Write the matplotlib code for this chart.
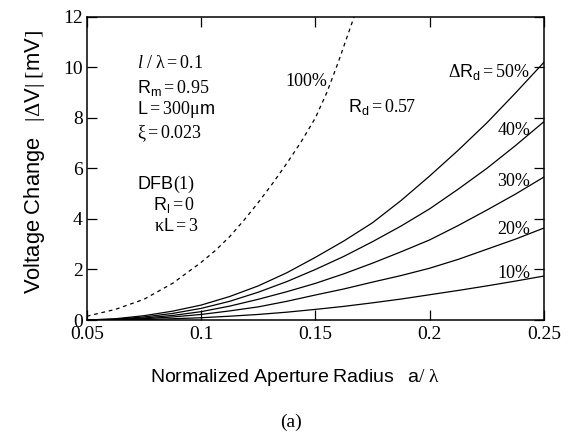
import numpy as np
import matplotlib
matplotlib.use("Agg")
import matplotlib.pyplot as plt

plt.rcParams['mathtext.fontset'] = 'custom'
plt.rcParams['mathtext.rm'] = 'Liberation Serif'
plt.rcParams['mathtext.it'] = 'Liberation Serif:italic'
plt.rcParams['mathtext.sf'] = 'Liberation Sans'
plt.rcParams['font.family'] = 'Liberation Serif'

### data
a_lam = [0.05, 0.0625, 0.075, 0.0875, 0.1, 0.1125, 0.125, 0.1375, 0.15,
         0.1625, 0.175, 0.1875, 0.2, 0.2125, 0.225, 0.2375, 0.25]
dv_50 = [0.0, 0.05, 0.17, 0.35, 0.59, 0.93, 1.35, 1.87, 2.48,
         3.13, 3.85, 4.73, 5.7, 6.72, 7.8, 8.98, 10.2]
dv_40 = [0.0, 0.03, 0.12, 0.26, 0.46, 0.74, 1.10, 1.52, 2.0,
         2.52, 3.1, 3.72, 4.4, 5.18, 6.0, 6.9, 7.85]
dv_30 = [0.0, 0.02, 0.08, 0.18, 0.33, 0.55, 0.82, 1.12, 1.45,
         1.83, 2.25, 2.7, 3.17, 3.74, 4.35, 4.98, 5.66]
dv_20 = [0.0, 0.01, 0.05, 0.12, 0.22, 0.36, 0.52, 0.74, 0.99,
         1.23, 1.5, 1.76, 2.05, 2.4, 2.8, 3.2, 3.64]
dv_10 = [0.0, 0.005, 0.02, 0.05, 0.09, 0.15, 0.22, 0.31, 0.42,
         0.54, 0.68, 0.83, 1.0, 1.17, 1.35, 1.54, 1.74]

a_lam_100 = [0.05, 0.0625, 0.075, 0.0875, 0.1, 0.10625, 0.1125, 0.11875, 0.125,
             0.13125, 0.1375, 0.14375, 0.15, 0.155, 0.16, 0.165, 0.1685]
dv_100 = [0.15, 0.42, 0.82, 1.45, 2.28, 2.75, 3.3, 3.95, 4.65,
          5.4, 6.2, 7.05, 8.0, 9.0, 10.2, 11.5, 12.4]

xticks = [0.05, 0.1, 0.15, 0.2, 0.25]
xticklabels = ['0.05', '0.1', '0.15', '0.2', '0.25']
yticks = [0, 2, 4, 6, 8, 10, 12]

fig = plt.figure(figsize=(5.75, 4.42), dpi=100)
ax = fig.add_axes([0.151, 0.276, 0.795, 0.686])

for dv in [dv_50, dv_40, dv_30, dv_20, dv_10]:
    ax.plot(a_lam, dv, color='black', lw=0.9)
ax.plot(a_lam_100, dv_100, color='black', lw=0.9, ls=(0, (3, 3)))

ax.set_xlim(0.05, 0.25)
ax.set_ylim(0, 12)
ax.set_xticks(xticks)
ax.set_xticklabels(xticklabels)
ax.set_yticks(yticks)
ax.tick_params(direction='in', length=7, width=0.9, top=True, right=True,
               labelsize=14)
ax.tick_params(axis='x', pad=4)
ax.tick_params(axis='y', pad=3)
for s in ax.spines.values():
    s.set_linewidth(1.1)

# parameter annotations
fs = 13
ax.text(0.0719, 10.14, r'$l\ /\ \mathrm{\lambda}=0.1$', fontsize=fs, va='center')
ax.text(0.0719, 9.19, r'$\mathsf{R_m}=0.95$', fontsize=fs, va='center')
ax.text(0.0719, 8.32, r'$\mathsf{L}=300\mathrm{\mu}\mathsf{m}$', fontsize=fs, va='center')
ax.text(0.0719, 7.37, r'$\mathrm{\xi}=0.023$', fontsize=fs, va='center')
ax.text(0.0719, 5.35, r'$\mathsf{DFB}(1)$', fontsize=fs, va='center')
ax.text(0.0789, 4.55, r'$\mathsf{R_l}=0$', fontsize=fs, va='center')
ax.text(0.0793, 3.72, r'$\mathrm{\kappa}\mathsf{L}=3$', fontsize=fs, va='center')

ax.text(0.1367, 9.45, '100%', fontsize=fs, va='center')
ax.text(0.1642, 8.44, r'$\mathsf{R_d}=0.57$', fontsize=fs, va='center')
ax.text(0.2439, 9.8, r'$\Delta\mathsf{R_d}=50\%$', fontsize=fs, va='center', ha='right')
ax.text(0.2439, 7.5, '40%', fontsize=fs, va='center', ha='right')
ax.text(0.2439, 5.5, '30%', fontsize=fs, va='center', ha='right')
ax.text(0.2439, 3.6, '20%', fontsize=fs, va='center', ha='right')
ax.text(0.2439, 1.85, '10%', fontsize=fs, va='center', ha='right')

fig.text(35 / 575, 1 - 162 / 442,
         r'$\mathsf{Voltage\ Change}\quad|\Delta\mathsf{V}|\ [\mathsf{mV}]$',
         fontsize=15.8, rotation=90, ha='center', va='center')
fig.text(295 / 575, 1 - 378 / 442,
         r'$\mathsf{Normalized\ Aperture\ Radius}\quad\mathsf{a}/\ \mathrm{\lambda}$',
         fontsize=14, ha='center', va='center')

fig.text(291 / 575, 1 - 422 / 442, '(a)', fontsize=14, ha='center', va='center')

fig.savefig('out.png', dpi=100)
